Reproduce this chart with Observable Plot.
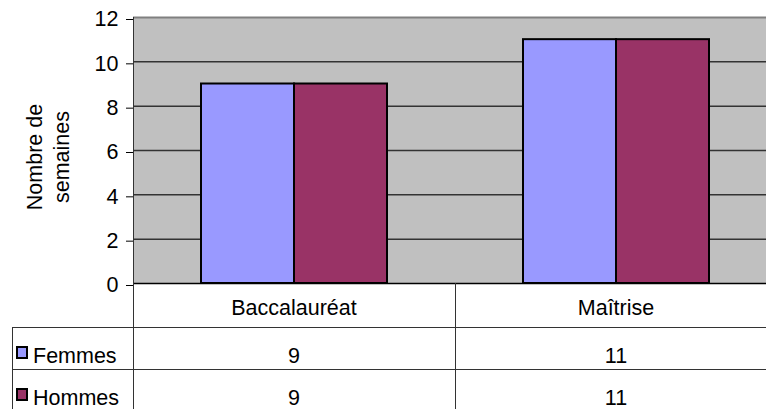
<!DOCTYPE html>
<html><head><meta charset="utf-8">
<script src="https://cdn.jsdelivr.net/npm/d3@7"></script>
<script src="https://cdn.jsdelivr.net/npm/@observablehq/plot@0.6"></script>
<style>
html,body{margin:0;padding:0;background:#fff;overflow:hidden}
#wrap{position:relative;width:766px;height:409px;overflow:hidden;font-family:"Liberation Sans",Arial,sans-serif;font-size:21.5px;color:#000}
#wrap svg{position:absolute;left:0;top:0;max-width:none !important}
.line{position:absolute;background:#333}
.cell{position:absolute;line-height:22px;white-space:nowrap;box-sizing:border-box}
.key{display:inline-block;width:8px;height:9px;border:2px solid #000;vertical-align:4px;margin-right:5px}
#ylabel{position:absolute;text-align:center;line-height:27px;transform:rotate(-90deg);white-space:nowrap}
</style></head><body><div id="wrap"></div>
<script>
const categories = ["Baccalauréat", "Maîtrise"];
const series = ["Femmes", "Hommes"];
const femmes = [9, 11];
const hommes = [9, 11];
const seriesColors = ["#9999FF", "#993366"];
const yTicks = [0, 2, 4, 6, 8, 10, 12];
const yLabelLines = ["Nombre de", "semaines"];

const seriesValues = [femmes, hommes];
const data = categories.flatMap((c, i) => series.map((s, j) => ({category: c, sex: s, value: seriesValues[j][i]})));

const chart = Plot.plot({
  width: 777, height: 409,
  marginLeft: 133, marginRight: 0, marginTop: 17, marginBottom: 126,
  style: {fontFamily: "'Liberation Sans', Arial, sans-serif", fontSize: "21.5px", background: "transparent", color: "#000", overflow: "visible", maxWidth: "none"},
  facet: {data, x: "category"},
  fx: {domain: categories, padding: 0, axis: null},
  x: {domain: series, paddingInner: 0, paddingOuter: 0.731, axis: null},
  y: {domain: [yTicks[0], yTicks[yTicks.length - 1]]},
  color: {domain: series, range: seriesColors},
  marks: [
    Plot.frame({fill: "#c0c0c0", stroke: "#c0c0c0", strokeWidth: 1}),
    Plot.gridY(yTicks.slice(1, -1), {stroke: "#333", strokeOpacity: 1, strokeWidth: 1.5}),
    Plot.ruleY([yTicks[yTicks.length - 1]], {stroke: "#808080", strokeWidth: 2}),
    Plot.barY(data, {x: "sex", y: "value", fill: "sex", stroke: "#000", strokeWidth: 2}),
    Plot.ruleY([0], {stroke: "#000", strokeWidth: 1.5}),
    Plot.axisY({ticks: yTicks, tickSize: 7, tickPadding: 8, label: null, stroke: "#000", dy: 2})
  ]
});

const wrap = document.getElementById("wrap");
wrap.appendChild(chart);

// Data table under the plot, aligned with the fx scale
const fx = chart.scale("fx");
const ys = chart.scale("y");
const x0 = fx.range[0];
const bw = fx.bandwidth;
const colEdges = categories.map((c, i) => x0 + i * bw).concat([x0 + categories.length * bw]);
const plotTop = Math.min(...ys.range);
const yBase = Math.max(...ys.range);
const tableLeft = 12;
const rowHeights = [44, 42, 42];
const rowTops = [yBase];
rowHeights.forEach(h => rowTops.push(rowTops[rowTops.length - 1] + h));
const tableBottom = rowTops[rowTops.length - 1];

function addLine(left, top, width, height) {
  const d = document.createElement("div");
  d.className = "line";
  Object.assign(d.style, {left: left + "px", top: top + "px", width: width + "px", height: height + "px"});
  wrap.appendChild(d);
}
function addCell(left, top, width, padTop, html, align) {
  const d = document.createElement("div");
  d.className = "cell";
  Object.assign(d.style, {left: left + "px", top: top + "px", width: width + "px", paddingTop: padTop + "px", textAlign: align});
  d.innerHTML = html;
  wrap.appendChild(d);
}
// horizontal lines
for (let r = 1; r < rowTops.length; r++) addLine(tableLeft, rowTops[r], colEdges[colEdges.length - 1] - tableLeft, 1);
// vertical lines
addLine(tableLeft, rowTops[1], 1, tableBottom - rowTops[1]);
colEdges.forEach((x, i) => addLine(Math.round(x), i === 0 ? plotTop : yBase, 1, tableBottom - (i === 0 ? plotTop : yBase)));
// header
categories.forEach((c, i) => addCell(colEdges[i], rowTops[0], bw, 13.5, c, "center"));
// series rows
series.forEach((s, j) => {
  addCell(tableLeft + 4, rowTops[j + 1], colEdges[0] - tableLeft - 4, 17.5,
    `<span class="key" style="background:${seriesColors[j]}"></span>${s}`, "left");
  categories.forEach((c, i) => addCell(colEdges[i], rowTops[j + 1], bw, 17.5, String(seriesValues[j][i]), "center"));
});
// y axis title
const yl = document.createElement("div");
yl.id = "ylabel";
yl.innerHTML = yLabelLines.join("<br>");
Object.assign(yl.style, {left: (49 - 70) + "px", top: (157 - 27) + "px", width: "140px", height: "54px"});
wrap.appendChild(yl);
</script>
</body></html>
